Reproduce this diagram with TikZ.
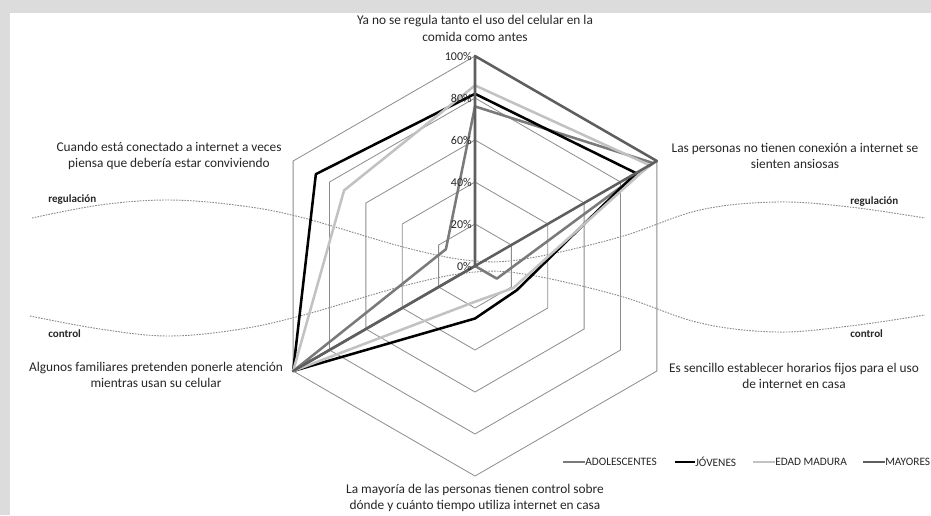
\documentclass[tikz,border=0pt]{standalone}
\usepackage{fontspec}
\setmainfont{Carlito}
\definecolor{framec}{HTML}{DCDCDC}
\definecolor{gridc}{HTML}{8C8C8C}
\definecolor{adolc}{HTML}{7A7A7A}
\definecolor{jovc}{HTML}{000000}
\definecolor{madc}{HTML}{C2C2C2}
\definecolor{mayc}{HTML}{5E5E5E}
\definecolor{wavec}{HTML}{8A8A8A}
\definecolor{textc}{HTML}{262626}
\begin{document}
\begin{tikzpicture}[x=0.75pt,y=-0.75pt,
  gridline/.style={draw=gridc,line width=0.6pt},
  serie/.style={line width=1.9pt,line join=round},
  axlabel/.style={font=\fontsize{10}{12.5}\selectfont,text=textc,align=center,inner sep=0pt},
  pct/.style={font=\fontsize{9}{10}\selectfont,text=textc,anchor=east,inner sep=0pt},
  wavestyle/.style={draw=wavec,dash pattern=on 1.2pt off 0.9pt,line width=0.7pt},
  wavelabel/.style={font=\bfseries\fontsize{8.3}{9}\selectfont,text=textc,inner sep=0pt,anchor=west},
  legtext/.style={font=\fontsize{8.5}{9}\selectfont,text=textc,anchor=west,inner sep=0pt},
  legline/.style={line width=2pt}]

\useasboundingbox (0,0) rectangle (931,515);
\fill[white] (0,0) rectangle (931,515);
\fill[framec] (0,0) rectangle (931,13);
\fill[framec] (0,0) rectangle (10,515);

% wavy dotted lines
\draw[wavestyle] plot[smooth,tension=0.6] coordinates {(32,218) (100,205) (167,200) (235,205) (300,217) (407,248) (475,261) (530,258) (620,237) (700,210) (777,202) (850,207) (925,218)};
\draw[wavestyle] plot[smooth,tension=0.6] coordinates {(30,316) (100,329) (167,336) (235,330) (300,316) (407,285) (475,272) (530,275) (620,296) (700,323) (777,332) (850,326) (925,315)};

\node[wavelabel] (regL) at (48,200) {regulación};
\node[wavelabel] (regR) at (850,202) {regulación};
\node[wavelabel] (conL) at (48,334) {control};
\node[wavelabel] (conR) at (850,334) {control};

\coordinate (C) at (475,266);
\def\R{210}
\begin{scope}[shift={(C)}]
  \foreach \r in {42,84,126,168,210}
    \draw[gridline] (-90:\r) -- (-30:\r) -- (30:\r) -- (90:\r) -- (150:\r) -- (210:\r) -- cycle;
  \draw[gridline] (0,0) -- (-90:\R);
  % series
  \draw[serie,draw=adolc] (-90:{\R*0.76}) -- (-30:{\R*0.98}) -- (30:{\R*0.12}) -- (90:0) -- (150:\R) -- (210:{\R*0.16}) -- cycle;
  \draw[serie,draw=jovc] (-90:{\R*0.82}) -- (-30:{\R*0.885}) -- (30:{\R*0.23}) -- (90:{\R*0.25}) -- (150:\R) -- (210:{\R*0.875}) -- cycle;
  \draw[serie,draw=madc] (-90:{\R*0.86}) -- (-30:{\R*0.96}) -- (30:{\R*0.21}) -- (90:{\R*0.17}) -- (150:\R) -- (210:{\R*0.72}) -- cycle;
  \draw[serie,draw=mayc] (-90:\R) -- (-30:\R) -- (30:0) -- (90:0) -- (150:\R) -- (210:0) -- cycle;
\end{scope}

% percent labels
\node[pct] (p100) at (472,56) {100\%};
\node[pct] (p80) at (472,98) {80\%};
\node[pct] (p60) at (472,140) {60\%};
\node[pct] (p40) at (472,182) {40\%};
\node[pct] (p20) at (472,224) {20\%};
\node[pct] (p0) at (472,266) {0\%};

% axis labels
\node[axlabel] (a1) at (475,28.5) {Ya no se regula tanto el uso del celular en la\\comida como antes};
\node[axlabel] (a2) at (795,156) {Las personas no tienen conexión a internet se\\sienten ansiosas};
\node[axlabel] (a3) at (794,376) {Es sencillo establecer horarios fijos para el uso\\de internet en casa};
\node[axlabel] (a4) at (475,498) {La mayoría de las personas tienen control sobre\\dónde y cuánto tiempo utiliza internet en casa};
\node[axlabel] (a5) at (156,375) {Algunos familiares pretenden ponerle atención\\mientras usan su celular};
\node[axlabel] (a6) at (169,156) {Cuando está conectado a internet a veces\\piensa que debería estar conviviendo};

% legend
\coordinate (g1a) at (563,462); \coordinate (g1b) at (585,462);
\coordinate (g2a) at (675,462); \coordinate (g2b) at (695,462);
\coordinate (g3a) at (753,462); \coordinate (g3b) at (775,462);
\coordinate (g4a) at (863,462); \coordinate (g4b) at (885,462);
\draw[legline,draw=adolc] (g1a) -- (g1b);
\draw[legline,draw=jovc] (g2a) -- (g2b);
\draw[legline,draw=madc] (g3a) -- (g3b);
\draw[legline,draw=mayc] (g4a) -- (g4b);
\node[legtext] (t1) at (g1b) {ADOLESCENTES};
\node[legtext] (t2) at (g2b) {JÓVENES};
\node[legtext] (t3) at (g3b) {EDAD MADURA};
\node[legtext] (t4) at (g4b) {MAYORES};
\end{tikzpicture}
\end{document}
